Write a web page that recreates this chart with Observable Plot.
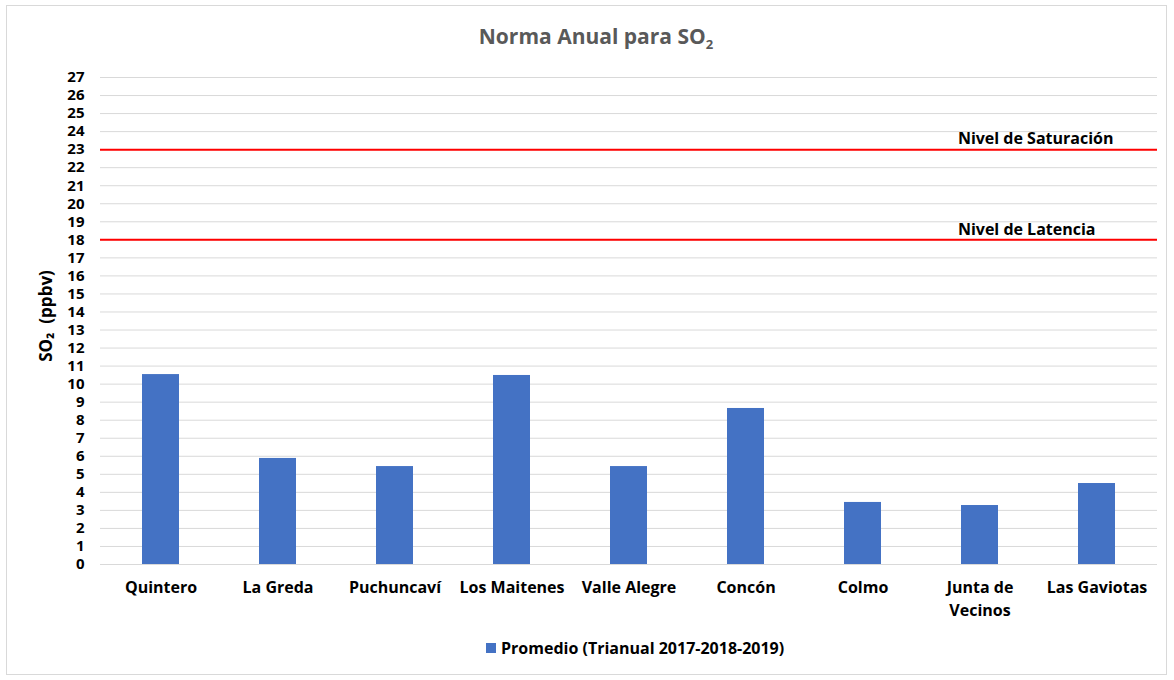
<!DOCTYPE html>
<html>
<head>
<meta charset="utf-8">
<script src="https://cdn.jsdelivr.net/npm/d3@7"></script>
<script src="https://cdn.jsdelivr.net/npm/@observablehq/plot@0.6"></script>
<style>
  html, body { margin: 0; padding: 0; background: #fff; }
  body { width: 1174px; height: 680px; position: relative; overflow: hidden; font-family: "Open Sans", Lato, sans-serif; }
  #frame { position: absolute; left: 6px; top: 5px; width: 1161px; height: 670px; border: 1px solid #d9d9d9; box-sizing: border-box; }
  #title { position: absolute; left: 0; width: 1192px; top: 22px; text-align: center; font-size: 21px; font-weight: bold; color: #595959; }
  #title sub { font-size: 13px; vertical-align: -5px; line-height: 0; }
  #chart { position: absolute; left: 0; top: 60px; }
  #legend { position: absolute; left: 486px; top: 637px; font-size: 16px; font-weight: bold; color: #000; display: flex; align-items: center; }
  #legend .sw { width: 10px; height: 10px; background: #4472c4; margin-right: 5px; }
</style>
</head>
<body>
<div id="frame"></div>
<div id="title">Norma Anual para SO<sub>2</sub></div>
<div id="chart"></div>
<div id="legend"><span class="sw"></span><span>Promedio (Trianual 2017-2018-2019)</span></div>
<script>
const stations = ["Quintero", "La Greda", "Puchuncaví", "Los Maitenes", "Valle Alegre", "Concón", "Colmo", "Junta de Vecinos", "Las Gaviotas"];
const stationLabels = ["Quintero", "La Greda", "Puchuncaví", "Los Maitenes", "Valle Alegre", "Concón", "Colmo", "Junta de\nVecinos", "Las Gaviotas"];
const promedio = [10.53, 5.88, 5.43, 10.48, 5.43, 8.65, 3.44, 3.27, 4.49];
const refNames = ["Nivel de Saturación", "Nivel de Latencia"];
const refValues = [23, 18];
const yTicks = d3.range(0, 28);

const bars = stations.map((s, i) => ({station: s, value: promedio[i]}));
const refs = refNames.map((n, i) => ({name: n, value: refValues[i]}));
const labelMap = new Map(stations.map((s, i) => [s, stationLabels[i]]));
const font = "'Open Sans', Lato, sans-serif";

const chart = Plot.plot({
  width: 1174,
  height: 572,
  marginLeft: 100,
  marginRight: 17,
  marginTop: 17,
  marginBottom: 68,
  style: {fontFamily: font, fontSize: "16px", fontWeight: "bold", color: "#000", background: "transparent"},
  x: {domain: stations, padding: 0},
  y: {domain: [0, 27]},
  marks: [
    Plot.gridY(yTicks, {stroke: "#d9d9d9", strokeOpacity: 1, strokeWidth: 1}),
    Plot.axisY(yTicks, {tickSize: 0, tickPadding: 16, label: null, fontSize: 15, fontWeight: "bold", fill: "#000"}),
    Plot.axisX({tickSize: 0, tickPadding: 12, label: null, tickFormat: d => labelMap.get(d), lineHeight: 1.45, fontSize: 16, fontWeight: "bold", fill: "#000"}),
    Plot.barY(bars, {x: "station", y: "value", fill: "#4472c4", insetLeft: 40, insetRight: 40}),
    Plot.ruleY(refs, {y: "value", stroke: "#ff0000", strokeWidth: 2}),
    Plot.text(refs, {filter: d => d.value === refValues[0], y: "value", text: "name", frameAnchor: "right", textAnchor: "end", dx: -44, dy: -11, fontSize: 16, fontWeight: "bold", fill: "#000"}),
    Plot.text(refs, {filter: d => d.value === refValues[1], y: "value", text: "name", frameAnchor: "right", textAnchor: "end", dx: -62, dy: -10, fontSize: 16, fontWeight: "bold", fill: "#000"}),
    Plot.text(["SO₂  (ppbv)"], {frameAnchor: "left", textAnchor: "middle", text: d => d, rotate: -90, dx: -54, dy: -5, fontSize: 17, fontWeight: "bold", fill: "#000"})
  ]
});
document.getElementById("chart").appendChild(chart);
</script>
</body>
</html>
